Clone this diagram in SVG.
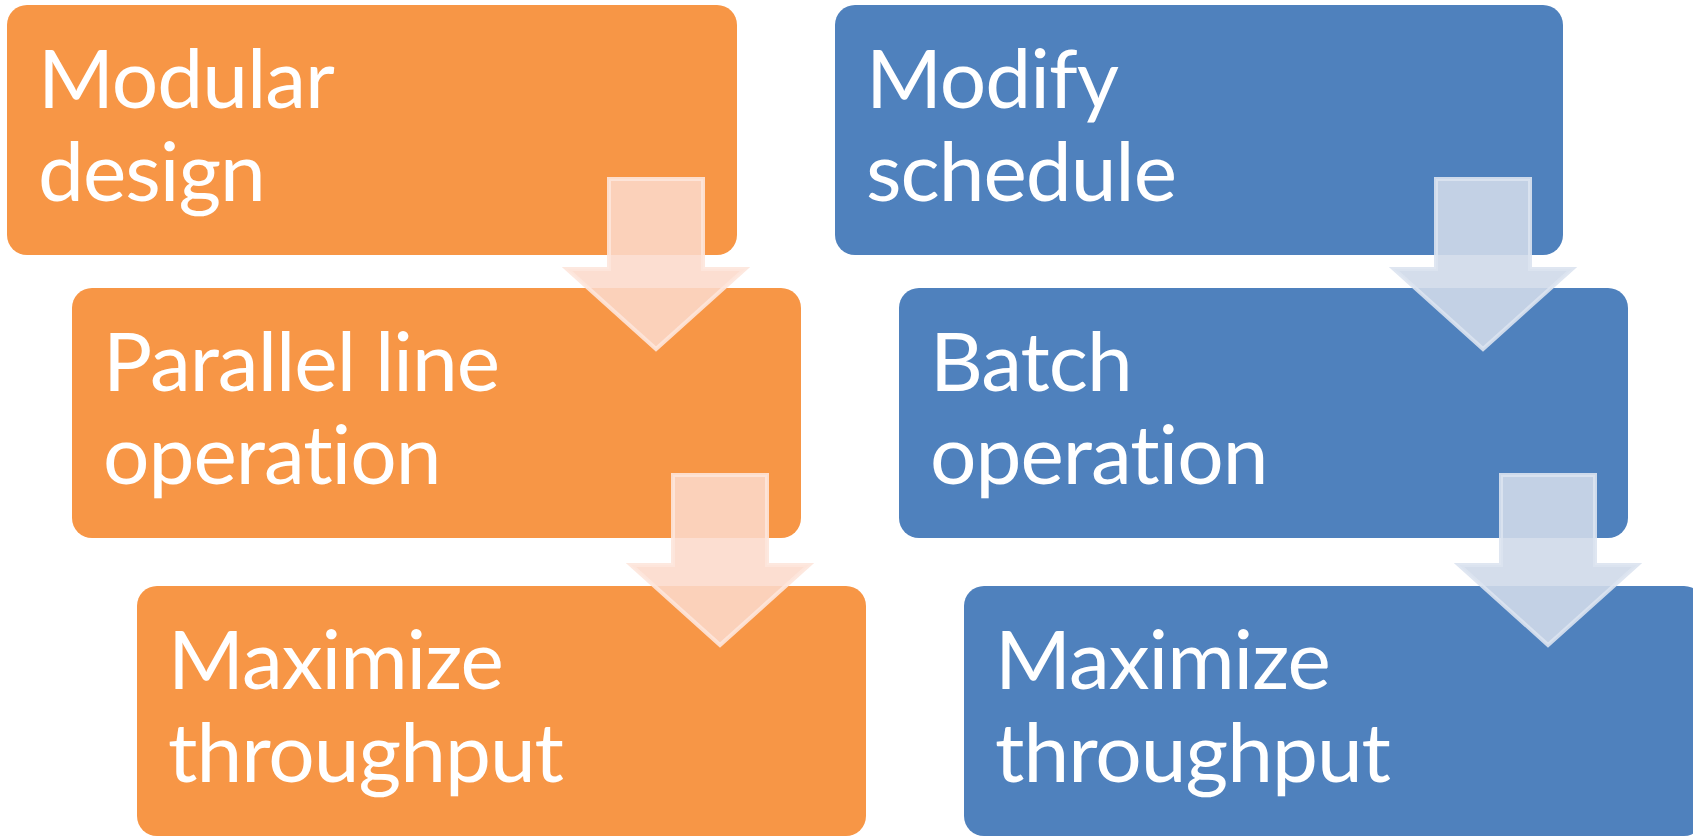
<svg xmlns="http://www.w3.org/2000/svg" xmlns:xlink="http://www.w3.org/1999/xlink" width="1693" height="836" viewBox="0 0 1693 836">
  <style>
    .orange { fill: #F79646; }
    .blue { fill: #4F81BD; }
    .label { font-family: Lato, "Open Sans", "Liberation Sans", sans-serif; font-size: 82px; letter-spacing: -1px; fill: #FFFFFF; font-variant-ligatures: none; font-feature-settings: "liga" 0, "clig" 0; }
    .arrow-o { fill: #FCDACB; fill-opacity: 0.88; stroke: #FDE6DC; stroke-opacity: 0.9; stroke-width: 4; }
    .arrow-b { fill: #CFD9E9; fill-opacity: 0.9; stroke: #DCE3EF; stroke-opacity: 0.9; stroke-width: 4; }
  </style>
  <defs>
    <!-- block down-arrow, origin at the top centre of the shaft -->
    <path id="downArrow" d="M -47 0 H 47 V 90 H 89 L 0 170 L -89 90 H -47 Z"/>
  </defs>

  <!-- left column -->
  <g id="modular-design">
    <rect class="orange" x="7" y="5" width="730" height="250" rx="20"/>
    <text class="label" x="38" y="108">Modular</text>
    <text class="label" x="38" y="201">design</text>
  </g>
  <g id="parallel-line-operation">
    <rect class="orange" x="72" y="288" width="729" height="250" rx="20"/>
    <text class="label" x="103" y="391">Parallel line</text>
    <text class="label" x="103" y="484">operation</text>
  </g>
  <g id="maximize-throughput-left">
    <rect class="orange" x="137" y="586" width="729" height="250" rx="20"/>
    <text class="label" x="168" y="689">Maximize</text>
    <text class="label" x="168" y="782">throughput</text>
  </g>

  <!-- right column -->
  <g id="modify-schedule">
    <rect class="blue" x="835" y="5" width="728" height="250" rx="20"/>
    <text class="label" x="866" y="108">Modify</text>
    <text class="label" x="866" y="201">schedule</text>
  </g>
  <g id="batch-operation">
    <rect class="blue" x="899" y="288" width="729" height="250" rx="20"/>
    <text class="label" x="930" y="391">Batch</text>
    <text class="label" x="930" y="484">operation</text>
  </g>
  <g id="maximize-throughput-right">
    <rect class="blue" x="964" y="586" width="740" height="250" rx="20"/>
    <text class="label" x="995" y="689">Maximize</text>
    <text class="label" x="995" y="782">throughput</text>
  </g>

  <!-- connectors -->
  <g id="connectors">
    <use xlink:href="#downArrow" class="arrow-o" transform="translate(656 179)"/>
    <use xlink:href="#downArrow" class="arrow-o" transform="translate(720 475)"/>
    <use xlink:href="#downArrow" class="arrow-b" transform="translate(1483 179)"/>
    <use xlink:href="#downArrow" class="arrow-b" transform="translate(1548 475)"/>
  </g>
</svg>
